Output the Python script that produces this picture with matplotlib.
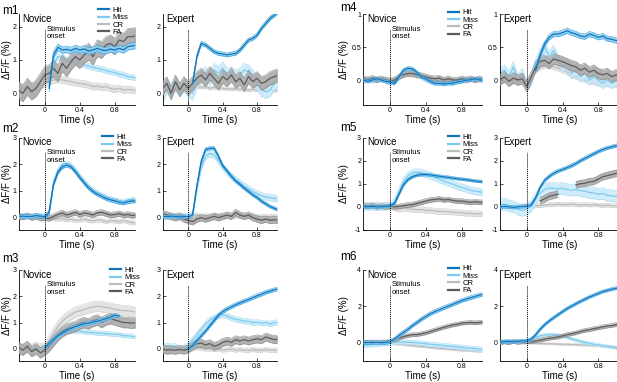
import numpy as np
import matplotlib
matplotlib.use('Agg')
import matplotlib.pyplot as plt
from matplotlib.lines import Line2D
from matplotlib.ticker import FormatStrFormatter
import matplotlib.transforms as mtransforms

plt.rcParams['font.family'] = ['Liberation Sans', 'DejaVu Sans']
plt.rcParams['axes.unicode_minus'] = False

nan = np.nan

# tiempo (s) desde el estimulo
t = [-0.30, -0.25, -0.20, -0.15, -0.10, -0.05, 0.00, 0.05, 0.10, 0.15,
     0.20, 0.25, 0.30, 0.35, 0.40, 0.45, 0.50, 0.55, 0.60, 0.65,
     0.70, 0.75, 0.80, 0.85, 0.90, 0.95, 1.00, 1.05]

etiquetas = ['Hit', 'Miss', 'CR', 'FA']

# ---- m1 ----
m1n_hit = [nan]*7 + [0.15, 1.15, 1.38, 1.30, 1.32, 1.28, 1.35, 1.30, 1.33, 1.27, 1.30,
                     1.35, 1.30, 1.28, 1.33, 1.30, 1.35, 1.30, 1.40, 1.42, 1.45]
m1n_miss = [nan]*7 + [0.30, 0.90, 1.10, 1.08, 1.00, 0.98, 0.95, 0.90, 0.85, 0.82, 0.78,
                      0.75, 0.72, 0.68, 0.65, 0.62, 0.58, 0.55, 0.50, 0.48, 0.45]
m1n_cr = [0.15, 0.12, 0.18, 0.10, 0.15, 0.22, 0.30, 0.35, 0.40, 0.42, 0.40, 0.38, 0.35, 0.32,
          0.30, 0.28, 0.25, 0.20, 0.22, 0.18, 0.20, 0.15, 0.12, 0.15, 0.10, 0.12, 0.10, 0.08]
m1n_fa = [0.10, 0.00, 0.20, 0.05, 0.15, 0.35, 0.55, 0.60, 0.75, 0.60, 0.90, 0.75, 0.95, 1.10,
          1.00, 1.15, 1.25, 1.10, 1.35, 1.30, 1.45, 1.50, 1.40, 1.60, 1.55, 1.70, 1.70, 1.75]
m1n_sem = [0.10, 0.08, 0.10, 0.25]

m1e_hit = [nan]*7 + [0.30, 1.10, 1.50, 1.45, 1.35, 1.25, 1.20, 1.18, 1.15, 1.18, 1.20,
                     1.30, 1.45, 1.60, 1.65, 1.75, 1.95, 2.10, 2.25, 2.35, 2.45]
m1e_miss = [-0.10, 0.20, 0.10, 0.30, 0.10, 0.25, 0.10, 0.00, 0.35, 0.50, 0.60, 0.45, 0.70, 0.60,
            0.75, 0.55, 0.60, 0.50, 0.55, 0.70, 0.65, 0.50, 0.30, 0.10, 0.05, 0.10, 0.30, 0.40]
m1e_cr = [0.05, 0.10, 0.05, 0.10, 0.08, 0.12, 0.10, 0.15, 0.20, 0.18, 0.20, 0.15, 0.18, 0.15,
          0.15, 0.14, 0.13, 0.14, 0.12, 0.12, 0.10, 0.12, 0.10, 0.10, 0.08, 0.10, 0.08, 0.10]
m1e_fa = [0.15, 0.30, 0.00, 0.35, 0.10, 0.30, 0.15, 0.30, 0.45, 0.55, 0.40, 0.60, 0.45, 0.30,
          0.50, 0.40, 0.55, 0.35, 0.45, 0.25, 0.50, 0.35, 0.45, 0.30, 0.35, 0.45, 0.50, 0.55]
m1e_sem = [0.06, 0.20, 0.05, 0.20]

# ---- m2 ----
m2n_hit = [0.05, 0.06, 0.04, 0.05, 0.08, 0.06, 0.02, 0.20, 1.25, 1.70, 1.90, 1.97, 1.90, 1.72,
           1.50, 1.30, 1.12, 0.98, 0.88, 0.80, 0.72, 0.67, 0.63, 0.58, 0.55, 0.60, 0.63, 0.62]
m2n_miss = [0.05, 0.04, 0.06, 0.05, 0.04, 0.06, 0.03, 0.20, 1.30, 1.75, 1.98, 2.03, 1.95, 1.78,
            1.55, 1.35, 1.17, 1.02, 0.92, 0.83, 0.75, 0.69, 0.65, 0.60, 0.58, 0.63, 0.66, 0.65]
m2n_cr = [0.05, 0.08, 0.05, 0.03, 0.06, 0.04, 0.02, 0.00, -0.03, -0.05, -0.02, -0.08, -0.05, -0.10,
          -0.08, -0.05, -0.10, -0.12, -0.08, -0.10, -0.15, -0.10, -0.12, -0.15, -0.10, -0.15, -0.18, -0.20]
m2n_fa = [0.05, 0.02, 0.08, 0.00, 0.05, -0.02, 0.00, -0.03, 0.05, 0.12, 0.18, 0.10, 0.15, 0.20,
          0.12, 0.18, 0.15, 0.10, 0.18, 0.20, 0.15, 0.10, 0.12, 0.15, 0.10, 0.12, 0.08, 0.10]
m2n_sem = [0.07, 0.10, 0.08, 0.10]

m2e_hit = [0.05, 0.04, 0.06, 0.05, 0.03, 0.05, 0.03, 0.10, 1.20, 2.10, 2.55, 2.60, 2.60, 2.30,
           1.95, 1.75, 1.55, 1.38, 1.25, 1.10, 0.98, 0.85, 0.75, 0.62, 0.52, 0.42, 0.35, 0.30]
m2e_miss = [0.05, 0.06, 0.04, 0.05, 0.05, 0.04, 0.05, 0.10, 1.10, 1.90, 2.30, 2.40, 2.35, 2.15,
            1.90, 1.72, 1.55, 1.42, 1.30, 1.18, 1.08, 0.98, 0.90, 0.82, 0.78, 0.75, 0.72, 0.70]
m2e_cr = [0.15, 0.12, 0.10, 0.08, 0.10, 0.05, 0.05, 0.08, 0.10, 0.05, 0.08, 0.05, 0.10, 0.08,
          0.05, 0.10, 0.08, 0.05, 0.08, 0.05, 0.05, 0.08, 0.05, 0.05, 0.03, 0.05, 0.05, 0.05]
m2e_fa = [0.15, 0.10, 0.05, 0.00, 0.05, -0.05, -0.10, -0.15, -0.05, 0.00, -0.05, 0.00, 0.05, 0.00,
          0.05, 0.10, 0.05, 0.20, 0.10, 0.05, 0.10, 0.00, -0.05, -0.10, -0.05, -0.10, -0.08, -0.10]
m2e_sem = [0.06, 0.12, 0.08, 0.12]

# ---- m3 ----
m3n_hit = [nan]*6 + [0.05, 0.20, 0.35, 0.50, 0.60, 0.70, 0.78, 0.85, 0.90, 0.95, 0.98, 1.02,
                     1.05, 1.10, 1.15, 1.20, 1.28, 1.25] + [nan]*4
m3n_miss = [0.00, 0.05, -0.02, 0.03, 0.00, 0.02, 0.05, 0.20, 0.40, 0.55, 0.62, 0.68, 0.70, 0.68,
            0.67, 0.65, 0.63, 0.62, 0.60, 0.60, 0.58, 0.57, 0.55, 0.55, 0.50, 0.50, 0.48, 0.45]
m3n_cr = [-0.05, 0.00, 0.05, -0.02, 0.05, 0.00, 0.05, 0.30, 0.60, 0.85, 1.05, 1.20, 1.30, 1.40,
          1.45, 1.50, 1.55, 1.60, 1.62, 1.60, 1.58, 1.55, 1.50, 1.48, 1.45, 1.45, 1.42, 1.40]
m3n_fa = [0.05, -0.05, 0.10, -0.10, 0.00, -0.15, -0.05, 0.10, 0.30, 0.50, 0.65, 0.75, 0.80, 0.85,
          0.95, 1.00, 0.95, 1.05, 1.10, 1.00, 1.10, 1.15, 1.10, 1.05, 1.00, 1.00, 0.98, 1.00]
m3n_sem = [0.07, 0.08, 0.20, 0.20]

m3e_hit = [nan]*6 + [0.00, 0.12, 0.32, 0.50, 0.68, 0.88, 1.08, 1.28, 1.42, 1.52, 1.60, 1.68,
                     1.75, 1.82, 1.88, 1.95, 2.02, 2.08, 2.15, 2.20, 2.25, 2.30]
m3e_miss = [0.10, 0.12, 0.08, 0.10, 0.00, 0.05, 0.15, 0.35, 0.55, 0.75, 0.95, 1.10, 1.20, 1.25,
            1.30, 1.25, 1.18, 1.12, 1.10, 1.05, 1.05, 1.00, 1.02, 0.98, 1.00, 0.95, 1.00, 1.00]
m3e_cr = [0.00, -0.05, 0.00, 0.02, 0.00, -0.02, 0.00, 0.05, 0.05, 0.02, 0.00, 0.00, -0.02, 0.00,
          -0.05, -0.02, 0.00, -0.05, -0.02, -0.05, -0.05, -0.02, -0.05, -0.05, -0.02, -0.05, -0.05, -0.05]
m3e_fa = [0.00, -0.05, -0.03, -0.05, -0.02, -0.05, 0.00, 0.10, 0.20, 0.22, 0.15, 0.20, 0.10, 0.15,
          0.25, 0.30, 0.25, 0.35, 0.30, 0.35, 0.30, 0.35, 0.38, 0.35, 0.45, 0.40, 0.35, 0.38]
m3e_sem = [0.07, 0.10, 0.08, 0.15]

# ---- m4 ----
m4n_hit = [0.00, -0.02, 0.00, 0.02, 0.00, -0.02, -0.03, -0.05, 0.05, 0.15, 0.18, 0.17, 0.12, 0.05,
           0.02, -0.02, -0.05, -0.05, -0.06, -0.05, -0.05, -0.03, -0.02, 0.00, 0.00, 0.02, 0.00, 0.00]
m4n_miss = [0.00, 0.02, -0.02, 0.00, 0.02, -0.02, -0.05, -0.03, 0.03, 0.10, 0.13, 0.12, 0.08, 0.04,
            0.00, -0.03, -0.05, -0.04, -0.06, -0.04, -0.05, -0.03, -0.02, 0.00, 0.02, 0.00, 0.02, 0.00]
m4n_cr = [0.00, 0.02, 0.00, 0.03, 0.00, 0.02, 0.00, 0.02, 0.05, 0.08, 0.08, 0.07, 0.06, 0.05,
          0.03, 0.02, 0.00, 0.02, 0.00, 0.00, -0.02, 0.00, 0.00, 0.02, 0.00, 0.02, 0.00, 0.02]
m4n_fa = [0.02, 0.00, 0.03, 0.00, 0.02, 0.00, -0.02, 0.00, 0.05, 0.08, 0.10, 0.10, 0.08, 0.07,
          0.05, 0.03, 0.02, 0.03, 0.00, 0.02, 0.00, 0.00, 0.02, 0.00, 0.02, 0.00, 0.02, 0.00]
m4n_sem = [0.025, 0.03, 0.03, 0.04]

m4e_hit = [nan]*8 + [0.15, 0.38, 0.55, 0.65, 0.70, 0.70, 0.72, 0.75, 0.72, 0.70,
                     0.67, 0.66, 0.70, 0.68, 0.65, 0.67, 0.63, 0.62, 0.60, 0.60]
m4e_miss = [0.10, 0.15, 0.05, 0.20, 0.00, 0.10, -0.10, 0.00, 0.25, 0.40, 0.50, 0.35, 0.45, 0.30,
            0.20, 0.25, 0.10, 0.15, 0.05, 0.10, 0.00, 0.05, 0.00, -0.05, 0.00, -0.05, -0.02, 0.00]
m4e_cr = [0.02, 0.00, 0.03, 0.00, 0.02, 0.00, -0.02, 0.05, 0.15, 0.20, 0.22, 0.22, 0.20, 0.18,
          0.15, 0.12, 0.08, 0.05, 0.03, 0.00, -0.02, -0.03, -0.05, -0.05, -0.06, -0.07, -0.08, -0.08]
m4e_fa = [0.00, 0.05, -0.02, 0.03, 0.00, 0.02, -0.10, 0.05, 0.20, 0.28, 0.30, 0.25, 0.32, 0.30,
          0.28, 0.25, 0.22, 0.20, 0.15, 0.18, 0.12, 0.15, 0.10, 0.08, 0.10, 0.05, 0.08, 0.05]
m4e_sem = [0.04, 0.08, 0.04, 0.08]

# ---- m5 ----
m5n_hit = [0.02, 0.00, 0.02, 0.00, 0.00, 0.02, 0.05, 0.15, 0.55, 0.95, 1.18, 1.30, 1.37, 1.40,
           1.40, 1.38, 1.35, 1.33, 1.30, 1.28, 1.25, 1.22, 1.20, 1.18, 1.15, 1.12, 1.10, 1.10]
m5n_miss = [0.02, 0.00, 0.02, 0.00, 0.00, 0.02, 0.05, 0.20, 0.65, 1.10, 1.35, 1.48, 1.50, 1.48,
            1.42, 1.35, 1.28, 1.20, 1.12, 1.05, 0.98, 0.90, 0.85, 0.78, 0.72, 0.68, 0.65, 0.62]
m5n_cr = [0.05, 0.08, 0.05, 0.10, 0.05, 0.08, 0.05, -0.05, -0.10, -0.05, -0.08, -0.10, -0.12, -0.12,
          -0.15, -0.15, -0.18, -0.20, -0.20, -0.22, -0.22, -0.25, -0.25, -0.28, -0.28, -0.30, -0.30, -0.30]
m5n_fa = [0.05, 0.02, 0.05, 0.00, 0.03, 0.00, 0.02, 0.00, 0.02, 0.05, 0.08, 0.10, 0.15, 0.20,
          0.25, 0.30, 0.32, 0.35, 0.30, 0.32, 0.28, 0.25, 0.25, 0.22, 0.20, 0.22, 0.20, 0.20]
m5n_sem = [0.06, 0.15, 0.12, 0.10]

m5e_hit = [0.00, 0.02, 0.00, -0.02, 0.00, 0.02, 0.03, 0.08, 0.40, 0.85, 1.15, 1.32, 1.45, 1.55,
           1.62, 1.70, 1.78, 1.88, 2.00, 2.10, 2.20, 2.30, 2.40, 2.48, 2.55, 2.60, 2.65, 2.68]
m5e_miss = [0.10, 0.12, 0.05, 0.00, -0.10, -0.15, -0.10, 0.05, 0.35, 0.60, 0.75, 0.82, 0.80, 0.78,
            0.80, 0.75, 0.72, 0.75, 0.70, 0.68, 0.62, 0.60, 0.55, 0.58, 0.50, 0.48, 0.45, 0.42]
m5e_cr = [0.00, 0.02, 0.00, 0.02, 0.00, 0.02, 0.00, 0.00, 0.05, 0.05, 0.08, 0.10, 0.10, 0.12,
          0.10, 0.10, 0.12, 0.10, 0.08, 0.10, 0.08, 0.10, 0.08, 0.05, 0.08, 0.05, 0.05, 0.05]
m5e_fa = [nan]*9 + [0.25, 0.35, 0.45, 0.50, 0.55] + [nan]*3 + \
         [0.95, 1.00, 1.02, 1.08, 1.10, 1.20, 1.30, 1.35, 1.40, 1.45, 1.45]
m5e_sem = [0.07, 0.25, 0.08, 0.15]

# ---- m6 ----
m6n_hit = [0.00, 0.02, 0.00, 0.02, 0.00, 0.02, 0.05, 0.20, 0.40, 0.58, 0.75, 0.95, 1.12, 1.30,
           1.45, 1.60, 1.72, 1.82, 1.92, 2.02, 2.12, 2.22, 2.32, 2.40, 2.48, 2.55, 2.62, 2.68]
m6n_miss = [-0.15, -0.12, -0.10, -0.08, -0.05, -0.03, 0.00, 0.05, 0.05, 0.05, 0.03, 0.02, 0.00, -0.02,
            -0.05, -0.08, -0.10, -0.12, -0.15, -0.18, -0.20, -0.22, -0.25, -0.28, -0.30, -0.32, -0.35, -0.35]
m6n_cr = [0.05, 0.02, 0.03, 0.00, 0.02, 0.00, 0.00, -0.05, -0.08, -0.10, -0.12, -0.15, -0.17, -0.20,
          -0.22, -0.25, -0.27, -0.30, -0.32, -0.34, -0.36, -0.38, -0.40, -0.42, -0.43, -0.45, -0.46, -0.48]
m6n_fa = [0.05, 0.03, 0.05, 0.02, 0.05, 0.05, 0.08, 0.15, 0.25, 0.35, 0.40, 0.45, 0.45, 0.50,
          0.55, 0.62, 0.70, 0.78, 0.85, 0.92, 0.98, 1.02, 1.08, 1.10, 1.12, 1.10, 1.12, 1.15]
m6n_sem = [0.10, 0.12, 0.06, 0.10]

m6e_hit = [0.05, 0.05, 0.08, 0.05, 0.08, 0.10, 0.10, 0.20, 0.45, 0.75, 1.00, 1.20, 1.38, 1.55,
           1.72, 1.88, 2.02, 2.15, 2.28, 2.40, 2.52, 2.62, 2.72, 2.82, 2.88, 2.95, 3.00, 3.05]
m6e_miss = [0.10, 0.12, 0.10, 0.08, 0.10, 0.08, 0.10, 0.20, 0.30, 0.38, 0.42, 0.45, 0.45, 0.42,
            0.38, 0.30, 0.22, 0.15, 0.08, 0.02, -0.03, -0.08, -0.12, -0.16, -0.20, -0.24, -0.27, -0.30]
m6e_cr = [0.00, 0.02, 0.00, 0.00, 0.02, 0.00, 0.00, 0.00, -0.02, -0.03, -0.05, -0.05, -0.06, -0.07,
          -0.08, -0.08, -0.10, -0.10, -0.12, -0.12, -0.14, -0.15, -0.16, -0.18, -0.20, -0.22, -0.24, -0.25]
m6e_fa = [0.00, 0.05, 0.00, 0.08, 0.02, 0.05, 0.05, 0.05, 0.10, 0.15, 0.20, 0.25, 0.28, 0.32,
          0.38, 0.45, 0.50, 0.55, 0.62, 0.68, 0.72, 0.78, 0.82, 0.88, 0.92, 0.95, 1.00, 1.00]
m6e_sem = [0.08, 0.08, 0.05, 0.10]

# colores: Hit, Miss, CR, FA
col_linea = ['#0f74bb', '#7fcbee', '#bcbcbc', '#5c5c5c']
col_borde = ['#2e9de0', '#a3daf4', '#cdcdcd', '#8a8a8a']
col_banda = ['#8fd0f2', '#c9eaf9', '#e2e2e2', '#aaaaaa']
orden = [2, 1, 3, 0]   # se dibuja CR, Miss, FA y al final Hit

# tabla de paneles: (modulo, columna, fila, estado, series, sem)
paneles = [
    ('m1', 0, 0, 'Novice', [m1n_hit, m1n_miss, m1n_cr, m1n_fa], m1n_sem),
    ('m1', 1, 0, 'Expert', [m1e_hit, m1e_miss, m1e_cr, m1e_fa], m1e_sem),
    ('m2', 0, 1, 'Novice', [m2n_hit, m2n_miss, m2n_cr, m2n_fa], m2n_sem),
    ('m2', 1, 1, 'Expert', [m2e_hit, m2e_miss, m2e_cr, m2e_fa], m2e_sem),
    ('m3', 0, 2, 'Novice', [m3n_hit, m3n_miss, m3n_cr, m3n_fa], m3n_sem),
    ('m3', 1, 2, 'Expert', [m3e_hit, m3e_miss, m3e_cr, m3e_fa], m3e_sem),
    ('m4', 2, 0, 'Novice', [m4n_hit, m4n_miss, m4n_cr, m4n_fa], m4n_sem),
    ('m4', 3, 0, 'Expert', [m4e_hit, m4e_miss, m4e_cr, m4e_fa], m4e_sem),
    ('m5', 2, 1, 'Novice', [m5n_hit, m5n_miss, m5n_cr, m5n_fa], m5n_sem),
    ('m5', 3, 1, 'Expert', [m5e_hit, m5e_miss, m5e_cr, m5e_fa], m5e_sem),
    ('m6', 2, 2, 'Novice', [m6n_hit, m6n_miss, m6n_cr, m6n_fa], m6n_sem),
    ('m6', 3, 2, 'Expert', [m6e_hit, m6e_miss, m6e_cr, m6e_fa], m6e_sem),
]

ylims = {'m1': (-0.35, 2.37), 'm2': (-0.46, 3), 'm3': (-0.46, 3),
         'm4': (-0.38, 1), 'm5': (-1, 3), 'm6': (-1, 4)}
yticks = {'m1': [0, 1, 2], 'm2': [0, 1, 2, 3], 'm3': [0, 1, 2, 3],
          'm4': [0, 0.5, 1], 'm5': [-1, 0, 1, 2, 3], 'm6': [0, 2, 4]}

# posiciones en pixeles de la figura (617x382)
W, H = 617, 382
col_x = [18.5, 162.5, 363.2, 499.9]
col_w = [116.4, 114.4, 119.0, 119.0]
fila_top = [14.3, 137.5, 270.0]
fila_bot = [105.0, 230.0, 361.0]
ylab_x = [7, 7, 344, 344]
mlab_pos = {'m1': (2, 11), 'm2': (2, 129), 'm3': (2, 259),
            'm4': (340, 8), 'm5': (340, 128), 'm6': (340, 257)}
leg_pos = {'m1': (98, 6.5), 'm2': (102, 133.5), 'm3': (110, 266.5),
           'm4': (448, 9), 'm5': (448, 133.5), 'm6': (448, 265)}

fig = plt.figure(figsize=(W / 100, H / 100), dpi=100)

for mod, c, f, estado, series, sem in paneles:
    top, bot = fila_top[f], fila_bot[f]
    ax = fig.add_axes([col_x[c] / W, 1 - bot / H, col_w[c] / W, (bot - top) / H])
    tt = np.array(t)
    for k in orden:
        y = np.array(series[k], dtype=float)
        s = sem[k]
        z = 1 + orden.index(k)
        ax.fill_between(tt, y - s, y + s, color=col_banda[k], lw=0, alpha=0.9, zorder=z)
        ax.plot(tt, y - s, color=col_borde[k], lw=0.4, zorder=z)
        ax.plot(tt, y + s, color=col_borde[k], lw=0.4, zorder=z)
        ax.plot(tt, y, color=col_linea[k], lw=0.9, zorder=z + 0.5)

    ax.set_xlim(-0.3, 1.03)
    ax.set_ylim(*ylims[mod])
    ax.set_yticks(yticks[mod])
    ax.yaxis.set_major_formatter(FormatStrFormatter('%g'))
    ax.set_xticks([0, 0.4, 0.8])
    ax.set_xticklabels(['0', '0.4', '0.8'])
    ax.spines[['top', 'right']].set_visible(False)
    for sp in ['left', 'bottom']:
        ax.spines[sp].set_linewidth(0.6)
    ax.tick_params(direction='in', length=2, width=0.5, labelsize=5, pad=1.5)
    ax.axvline(0, ymin=0, ymax=0.84, color='k', ls=(0, (1, 1)), lw=0.7, zorder=10)
    ax.set_xlabel('Time (s)', fontsize=7, labelpad=1)
    ax.text(0.03, 0.95, estado, transform=ax.transAxes, fontsize=7, va='center', zorder=11)

    if estado == 'Novice':
        trans = mtransforms.blended_transform_factory(ax.transData, ax.transAxes)
        ax.text(0.02, 0.875, 'Stimulus\nonset', transform=trans, fontsize=5.5,
                va='top', ha='left', linespacing=1.1, zorder=11)
        fig.text(ylab_x[c] / W, 1 - (top + bot) / 2 / H, 'ΔF/F (%)', rotation=90,
                 ha='center', va='center', fontsize=7)
        mx, my = mlab_pos[mod]
        fig.text(mx / W, 1 - my / H, mod, fontsize=8.5, ha='left', va='center')
        manejadores = [Line2D([], [], color=col_linea[k], lw=1.6) for k in range(4)]
        lx, ly = leg_pos[mod]
        ax.legend(manejadores, etiquetas, loc='upper left',
                  bbox_to_anchor=(lx / W, 1 - ly / H), bbox_transform=fig.transFigure,
                  frameon=False, fontsize=5.5, handlelength=1.4, handletextpad=0.5,
                  labelspacing=0.0, borderpad=0, borderaxespad=0)

fig.savefig('out.png', dpi=100)
